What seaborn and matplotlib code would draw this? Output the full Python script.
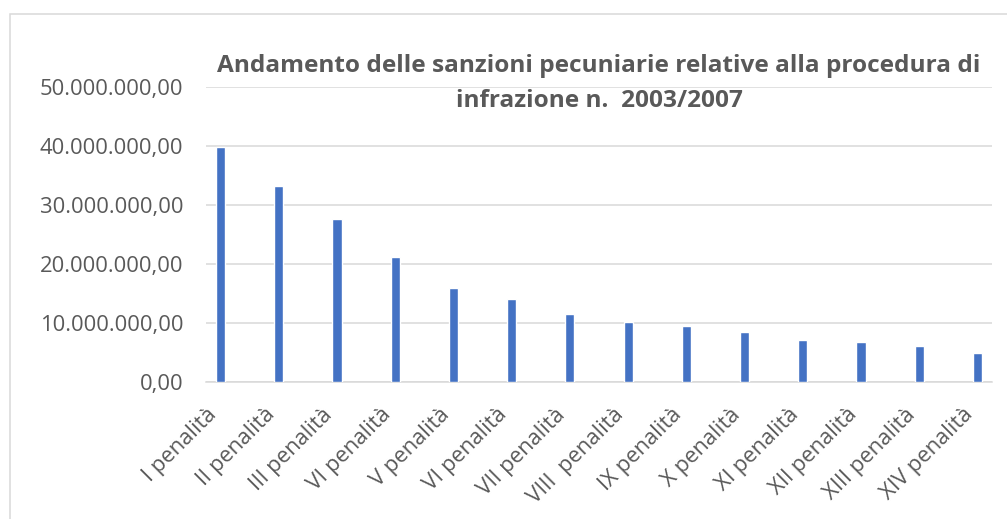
import matplotlib
matplotlib.use("Agg")
import matplotlib.pyplot as plt
from matplotlib.patches import Rectangle
from matplotlib.ticker import FuncFormatter, MultipleLocator
import seaborn as sns
import pandas as pd

categories = ["I penalità", "II penalità", "III penalità", "VI penalità", "V penalità",
              "VI penalità", "VII penalità", "VIII  penalità", "IX penalità", "X penalità",
              "XI penalità", "XII penalità", "XIII penalità", "XIV penalità"]
values = [39.8e6, 33.3e6, 27.7e6, 21.2e6, 15.9e6, 14.0e6, 11.5e6,
          10.1e6, 9.55e6, 8.5e6, 7.2e6, 6.7e6, 6.1e6, 4.95e6]
title_lines = ["Andamento delle sanzioni pecuniarie relative alla procedura di",
               "infrazione n.  2003/2007"]

sns.set_theme(style="white")
plt.rcParams['font.family'] = ['Open Sans', 'DejaVu Sans']

W, H = 1007, 519
fig = plt.figure(figsize=(W / 100, H / 100), dpi=100)
ax = fig.add_axes([206 / W, 1 - 382 / H, (992 - 206) / W, (382 - 87) / H])

df = pd.DataFrame({"pos": list(range(len(categories))), "val": values})
sns.barplot(data=df, x="pos", y="val", color="#4472C4", saturation=1,
            width=0.155, ax=ax, zorder=3)

ax.set_xlim(-0.25, len(categories) - 0.75)
ax.set_ylim(0, 50e6)
ax.yaxis.set_major_locator(MultipleLocator(10e6))

def it_fmt(v, _):
    s = f"{v:,.2f}"
    return s.replace(",", "X").replace(".", ",").replace("X", ".")
ax.yaxis.set_major_formatter(FuncFormatter(it_fmt))

ax.grid(axis="y", color="#d9d9d9", linewidth=1.1, zorder=0)
ax.set_axisbelow(True)
for s in ["top", "right", "left"]:
    ax.spines[s].set_visible(False)
ax.spines["bottom"].set_color("#d9d9d9")
ax.spines["bottom"].set_linewidth(1.1)

ax.set_xlabel("")
ax.set_ylabel("")
ax.set_xticks(range(len(categories)))
ax.set_xticklabels(categories)
ax.tick_params(axis="y", length=0, pad=16.5, labelsize=15.8, labelcolor="#595959")
ax.tick_params(axis="x", length=0, pad=16, labelsize=15.8, labelcolor="#595959")
for lab in ax.get_xticklabels():
    lab.set_rotation(45)
    lab.set_ha("right")
    lab.set_va("top")

fig.text(599 / W, 1 - 71.7 / H, title_lines[0], ha="center", va="baseline",
         fontsize=17.6, fontweight="bold", color="#595959")
fig.text(599 / W, 1 - 106.7 / H, title_lines[1], ha="center", va="baseline",
         fontsize=17.6, fontweight="bold", color="#595959")

fig.add_artist(Rectangle((10 / W, -0.1), 1.2, (H - 14) / H + 0.1,
                         transform=fig.transFigure, fill=False,
                         edgecolor="#d9d9d9", linewidth=1.1))

fig.savefig("out.png", dpi=100)
